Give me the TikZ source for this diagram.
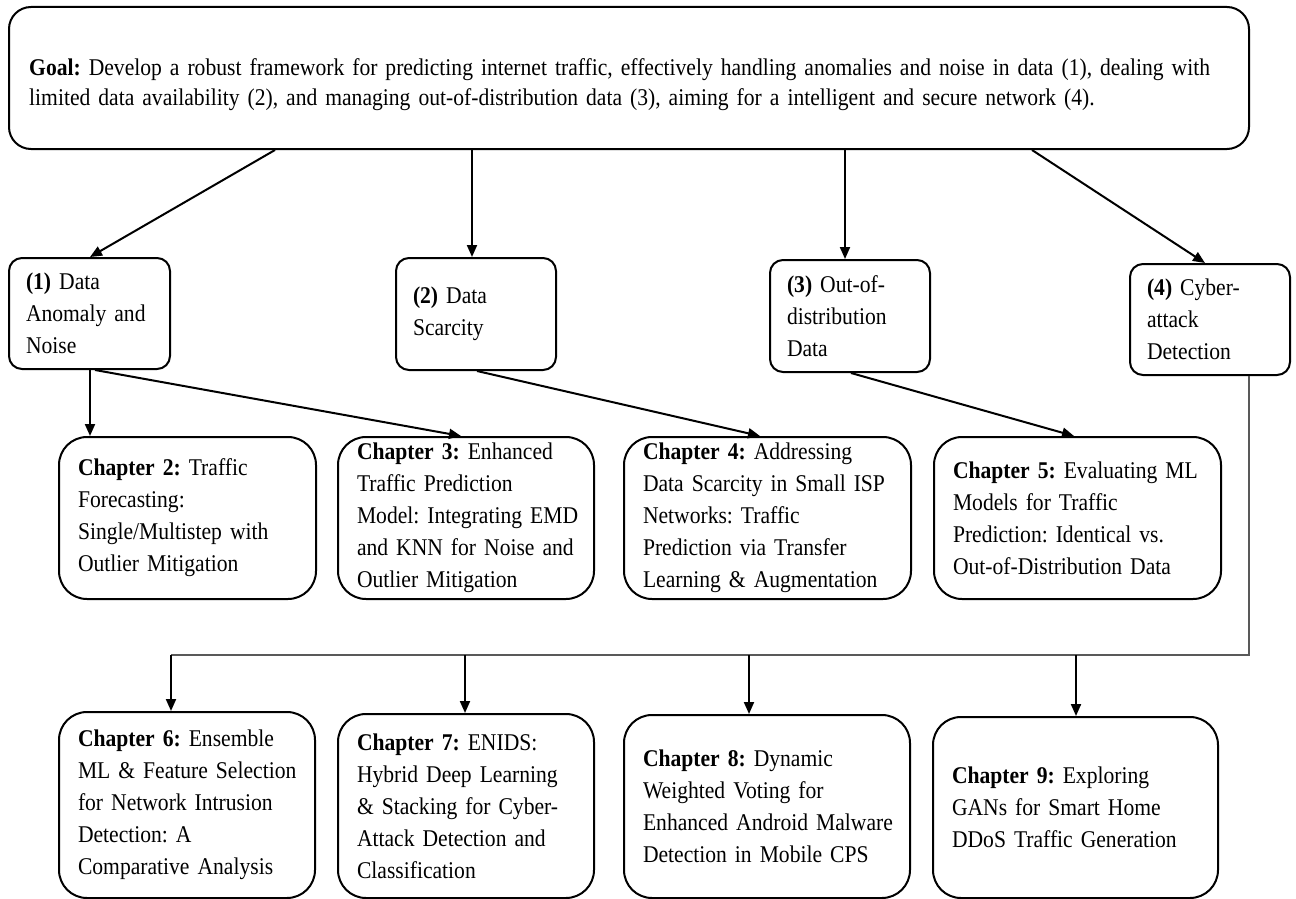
\documentclass[tikz,border=0pt]{standalone}
\usepackage{fontspec}
\setmainfont[FakeStretch=0.9]{Liberation Serif}
\usetikzlibrary{arrows.meta}

\begin{document}
\frenchspacing
\begin{tikzpicture}[x=1pt, y=-1pt,
  every node/.style={font=\fontsize{24}{32}\selectfont},
  goalbox/.style={draw, line width=2pt, rounded corners=22pt, anchor=north west,
    inner sep=0pt},
  goaltxt/.style={anchor=west, inner sep=0pt, text width=1205pt,
    execute at begin node={\raggedright},
    font=\fontsize{24}{30}\selectfont},
  topic/.style={draw, line width=2pt, rounded corners=13pt, anchor=north west,
    inner xsep=4pt, inner ysep=0pt,
    execute at begin node={\raggedright\leftskip=13pt\relax}},
  chapter/.style={draw, line width=2pt, rounded corners=28pt, anchor=north west,
    inner xsep=4pt, inner ysep=0pt,
    execute at begin node={\raggedright\leftskip=15pt\relax}},
  arr/.style={line width=2pt, -{Triangle[length=12pt,width=10pt]}},
  bus/.style={line width=2pt, draw=black!65}
]
\useasboundingbox (0,0) rectangle (1296,899);

% goal
\node[goalbox, minimum width=1240pt, minimum height=142pt] (goal) at (8,6) {};
\node[goaltxt] (goaltext) at (29,85)
  {\makebox[1205pt][s]{\textbf{Goal:} Develop a robust framework for predicting internet traffic, effectively handling anomalies and noise in data (1), dealing with}\\
   limited data availability (2), and managing out-of-distribution data (3), aiming for a intelligent and secure network (4).};

% research problems
\node[topic, minimum width=161pt, minimum height=111pt, text width=153pt] (b1) at (8,257)
  {\textbf{(1)} Data\\Anomaly and\\Noise};
\node[topic, minimum width=160pt, minimum height=112pt, text width=152pt] (b2) at (395,257)
  {\textbf{(2)} Data\\Scarcity};
\node[topic, minimum width=160pt, minimum height=112pt, text width=152pt] (b3) at (769,259)
  {\textbf{(3)} Out-of-\\distribution\\Data};
\node[topic, minimum width=160pt, minimum height=111pt, text width=152pt] (b4) at (1129,263)
  {\textbf{(4)} Cyber-\\attack\\Detection};

% chapters, first row
\node[chapter, minimum width=257pt, minimum height=162pt, text width=249pt] (ch2) at (58,436)
  {\textbf{Chapter 2:} Traffic\\Forecasting:\\Single/Multistep with\\Outlier Mitigation};
\node[chapter, minimum width=256pt, minimum height=162pt, text width=248pt] (ch3) at (337,436)
  {\textbf{Chapter 3:} Enhanced\\Traffic Prediction\\Model: Integrating EMD\\and KNN for Noise and\\Outlier Mitigation};
\node[chapter, minimum width=287pt, minimum height=162pt, text width=279pt] (ch4) at (623,436)
  {\textbf{Chapter 4:} Addressing\\Data Scarcity in Small ISP\\Networks: Traffic\\Prediction via Transfer\\Learning \& Augmentation};
\node[chapter, minimum width=287pt, minimum height=162pt, text width=279pt] (ch5) at (933,436)
  {\textbf{Chapter 5:} Evaluating ML\\Models for Traffic\\Prediction: Identical vs.\\Out-of-Distribution Data};

% chapters, second row
\node[chapter, minimum width=256pt, minimum height=186pt, text width=248pt] (ch6) at (58,711)
  {\textbf{Chapter 6:} Ensemble\\ML \& Feature Selection\\for Network Intrusion\\Detection: A\\Comparative Analysis};
\node[chapter, minimum width=256pt, minimum height=184pt, text width=248pt] (ch7) at (337,713)
  {\textbf{Chapter 7:} ENIDS:\\Hybrid Deep Learning\\\& Stacking for Cyber-\\Attack Detection and\\Classification};
\node[chapter, minimum width=286pt, minimum height=183pt, text width=278pt] (ch8) at (623,714)
  {\textbf{Chapter 8:} Dynamic\\Weighted Voting for\\Enhanced Android Malware\\Detection in Mobile CPS};
\node[chapter, minimum width=285pt, minimum height=181pt, text width=277pt] (ch9) at (932,716)
  {\textbf{Chapter 9:} Exploring\\GANs for Smart Home\\DDoS Traffic Generation};

% goal to research problems
\draw[arr] ([xshift=267pt]goal.south west) -- ([xshift=82pt]b1.north west);
\coordinate (t2) at ([xshift=77pt]b2.north west);
\draw[arr] (t2 |- goal.south) -- (t2);
\coordinate (t3) at ([xshift=76pt]b3.north west);
\draw[arr] (t3 |- goal.south) -- (t3);
\draw[arr] ([xshift=1024pt]goal.south west) -- ([xshift=76pt]b4.north west);

% research problems to chapters
\coordinate (c2) at ([xshift=32pt]ch2.north west);
\draw[arr] (c2 |- b1.south) -- (c2);
\draw[arr] ([xshift=87pt]b1.south west) -- ([xshift=124pt]ch3.north west);
\draw[arr] ([xshift=82pt]b2.south west) -- ([xshift=137pt]ch4.north west);
\draw[arr] ([xshift=82pt]b3.south west) -- ([xshift=141pt]ch5.north west);

% cyber-attack bus to chapters 6-9
\coordinate (b4out) at ([xshift=120pt]b4.south west);
\coordinate (busy) at ([yshift=56pt]ch6.north west);
\coordinate (d6) at ([xshift=113pt]ch6.north west);
\coordinate (d7) at ([xshift=128pt]ch7.north west);
\coordinate (d8) at ([xshift=126pt]ch8.north west);
\coordinate (d9) at ([xshift=144pt]ch9.north west);
\draw[bus] (b4out) |- (d6 |- busy);
\draw[arr] (d6 |- busy) -- (d6);
\draw[arr] (d7 |- busy) -- (d7);
\draw[arr] (d8 |- busy) -- (d8);
\draw[arr] (d9 |- busy) -- (d9);
\end{tikzpicture}
\end{document}
